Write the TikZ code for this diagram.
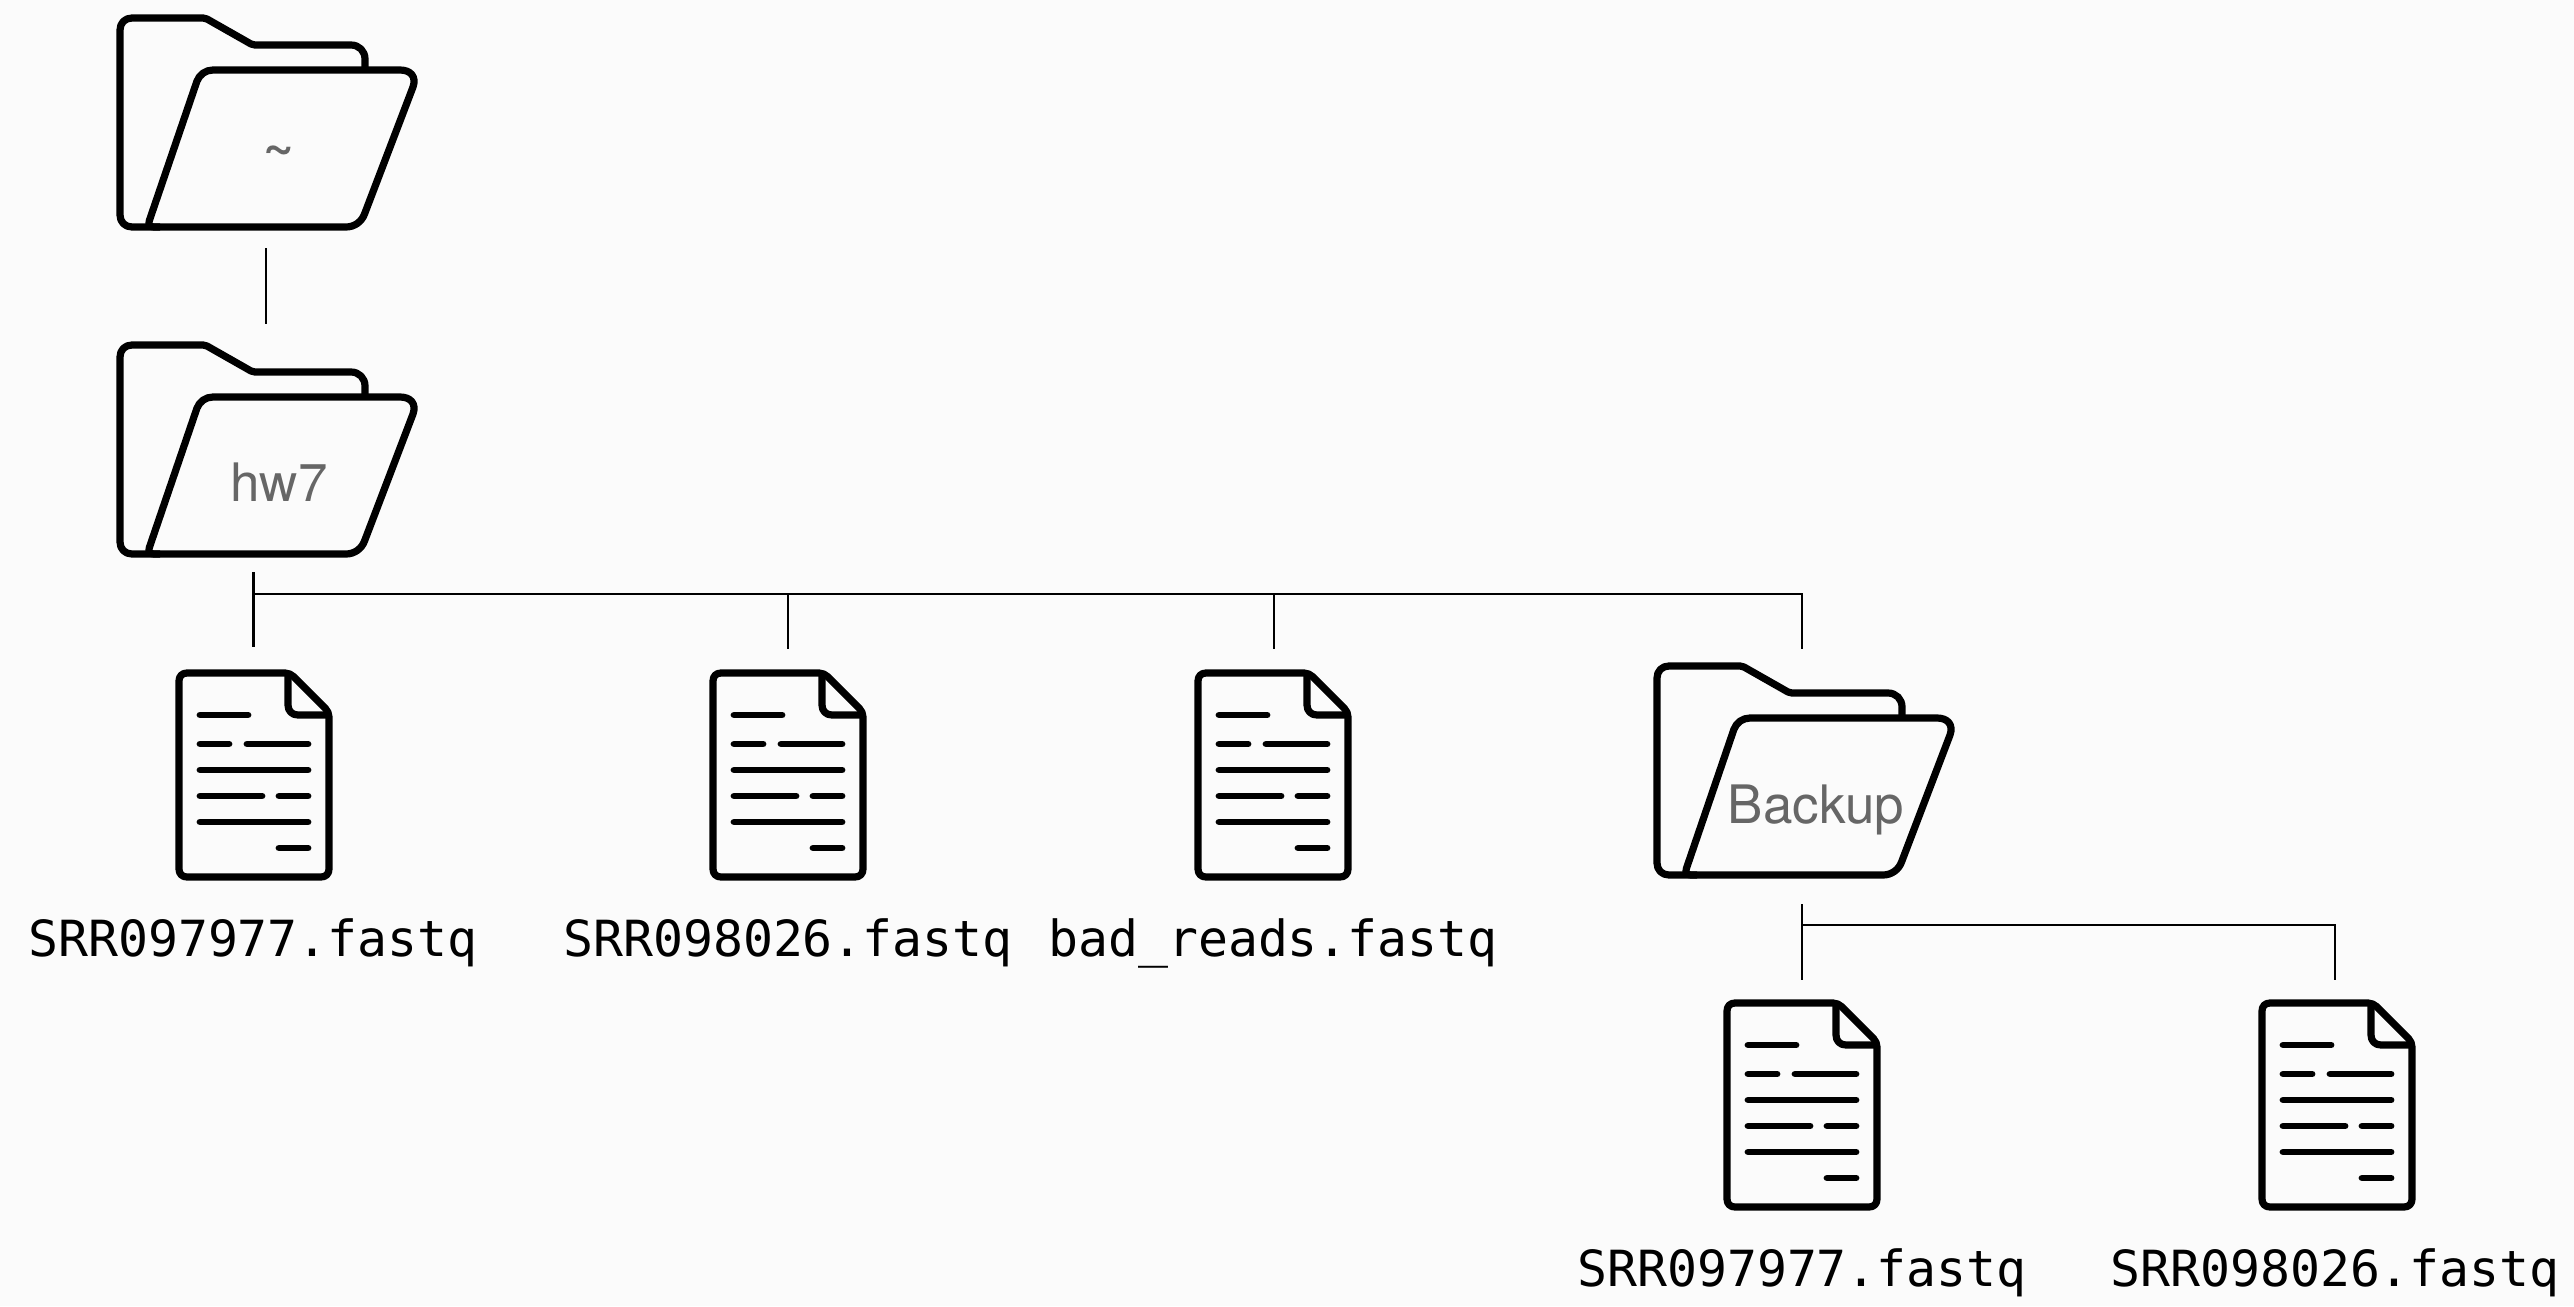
\documentclass[tikz,border=0pt]{standalone}
\usepackage{fontspec}
\setmainfont{TeX Gyre Heros}
\setmonofont{DejaVu Sans Mono}
\definecolor{bgc}{HTML}{FBFBFB}
\definecolor{lblc}{HTML}{666666}
\tikzset{
  iconline/.style={line width=3.6pt,line join=round,black},
  textline/.style={line width=3.4pt,line cap=round,black},
  conn/.style={line width=1.4pt,black},
  folderlabel/.style={anchor=base,inner sep=0pt,text=lblc,font=\fontsize{26.5}{30}\selectfont},
  filelabel/.style={anchor=base,inner sep=0pt,text=black,font=\ttfamily\fontsize{24.9}{28}\selectfont},
  folder/.pic={
    \draw[iconline] (245,52) -- (245,41) .. controls (245,33) and (239,27) .. (231,27) -- (135,27) .. controls (133.8,27) and (132.2,26.7) .. (131,26) -- (87,1) .. controls (85.8,0.4) and (84.2,0) .. (83,0) -- (12,0) .. controls (5,0) and (0,5) .. (0,12) -- (0,197) .. controls (0,204) and (5,209) .. (12,209) -- (40,209);
    \draw[iconline] (76.9,63.3) .. controls (79.4,56.5) and (85.8,52) .. (93,52) -- (280,52) .. controls (290.8,52) and (296.6,58.8) .. (293,69) -- (244.6,195.8) .. controls (241.8,203.7) and (234.4,209) .. (226,209) -- (34,209) .. controls (29.8,209) and (28,206.4) .. (29.4,202.4) -- cycle;
  },
  docicon/.pic={
    \draw[iconline] (8,0) -- (106,0) .. controls (109,0) and (112.4,1.4) .. (114.5,3.5) -- (146.5,35.5) .. controls (148.6,37.6) and (150,41) .. (150,44) -- (150,196) .. controls (150,200.8) and (146.8,204) .. (142,204) -- (8,204) .. controls (3.2,204) and (0,200.8) .. (0,196) -- (0,8) .. controls (0,3.2) and (3.2,0) .. (8,0) -- cycle;
    \draw[iconline] (109,0) -- (109,32) .. controls (109,38) and (113,42) .. (119,42) -- (150,42);
    \draw[textline] (21,42) -- (69,42);
    \draw[textline] (21,71) -- (50,71) (68,71) -- (129,71);
    \draw[textline] (21,97) -- (129,97);
    \draw[textline] (21,123) -- (83,123) (100,123) -- (129,123);
    \draw[textline] (21,149) -- (129,149);
    \draw[textline] (100,175) -- (129,175);
  }
}
\begin{document}
\begin{tikzpicture}[x=0.5pt,y=-0.5pt]
\useasboundingbox[fill=bgc] (0,0) rectangle (2574,1306);
% icons
\pic at (120,18) {folder};
\pic at (120,345) {folder};
\pic at (1657,666) {folder};
\pic at (179,673) {docicon};
\pic at (713,673) {docicon};
\pic at (1198,673) {docicon};
\pic at (1727,1003) {docicon};
\pic at (2262,1003) {docicon};
% labels
\node[folderlabel] (home) at (279,162) {\bfseries\char`\~};
\node[folderlabel] (hw) at (279,501) {hw7};
\node[folderlabel] (backup) at (1816,823) {Backup};
\node[filelabel] (f1) at (253,956) {SRR097977.fastq};
\node[filelabel] (f2) at (788,956) {SRR098026.fastq};
\node[filelabel] (f3) at (1273,956) {bad\_reads.fastq};
\node[filelabel] (f4) at (1802,1286) {SRR097977.fastq};
\node[filelabel] (f5) at (2335,1286) {SRR098026.fastq};
% connector ends
\coordinate (a1) at (266,248);
\coordinate (a2) at (266,324);
\coordinate (b0) at (253.5,572);
\coordinate (b1) at (253.5,594);
\coordinate (b2) at (253.5,647);
\coordinate (c1) at (788,594);
\coordinate (c2) at (788,649);
\coordinate (d1) at (1274,594);
\coordinate (d2) at (1274,649);
\coordinate (e1) at (1802,594);
\coordinate (e2) at (1802,649);
\coordinate (g0) at (1802,904);
\coordinate (g1) at (1802,925);
\coordinate (g2) at (1802,980);
\coordinate (h1) at (2335,925);
\coordinate (h2) at (2335,980);
% connectors
\draw[conn] (a1) -- (a2);
\draw[conn] (b0) -- (b2);
\draw[conn] (b1) -- (e1) -- (e2);
\draw[conn] (c1) -- (c2);
\draw[conn] (d1) -- (d2);
\draw[conn] (g0) -- (g2);
\draw[conn] (g1) -- (h1) -- (h2);
\end{tikzpicture}
\end{document}
